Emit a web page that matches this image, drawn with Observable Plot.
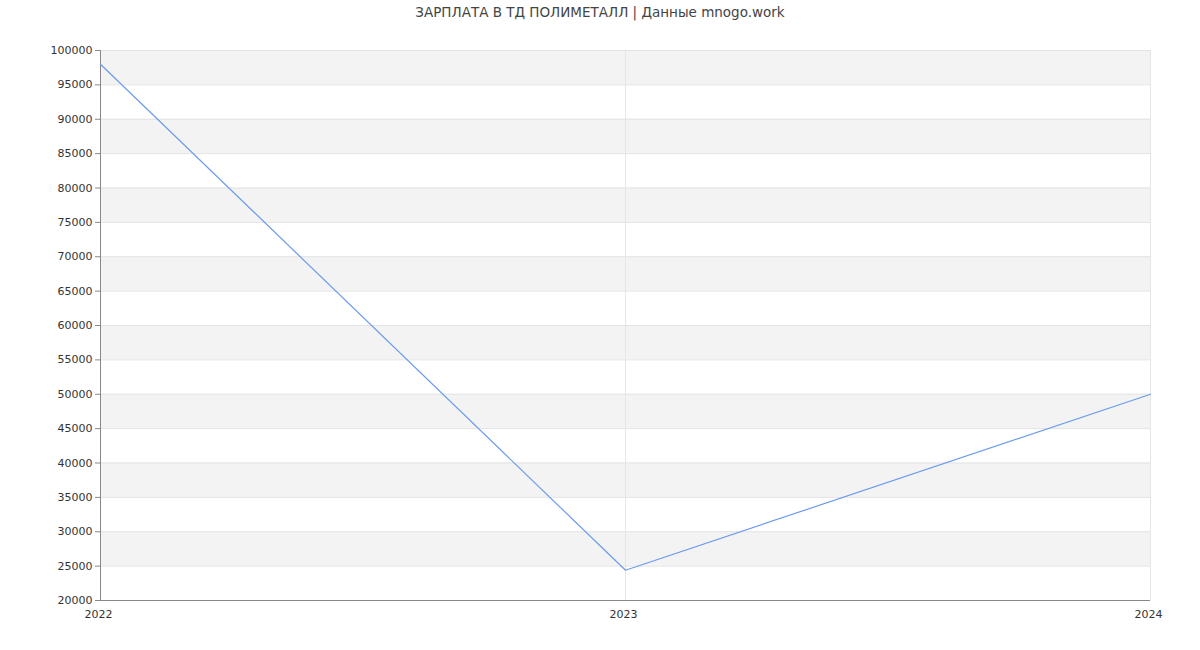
<!DOCTYPE html>
<html>
<head>
<meta charset="utf-8">
<script src="https://cdn.jsdelivr.net/npm/d3@7"></script>
<script src="https://cdn.jsdelivr.net/npm/@observablehq/plot@0.6"></script>
<style>
  html, body { margin: 0; padding: 0; background: #fff; }
  #title { height: 25px; line-height: 24px; text-align: center; font-family: "DejaVu Sans", sans-serif; font-size: 13.5px; color: #444; }
  #chart svg { display: block; }
</style>
</head>
<body>
<div id="title">ЗАРПЛАТА В ТД ПОЛИМЕТАЛЛ | Данные mnogo.work</div>
<div id="chart"></div>
<script>
const years = [2022, 2023, 2024];
const salary = [98000, 24400, 50000];
const yTicks = [20000, 25000, 30000, 35000, 40000, 45000, 50000, 55000, 60000, 65000, 70000, 75000, 80000, 85000, 90000, 95000, 100000];
const xTicks = [2022, 2023, 2024];
const bandStarts = [25000, 35000, 45000, 55000, 65000, 75000, 85000, 95000];

const data = years.map((y, i) => ({year: y, value: salary[i]}));
const bands = bandStarts.map(s => ({lo: s, hi: s + 5000}));

const chart = Plot.plot({
  width: 1200,
  height: 625,
  marginTop: 25,
  marginBottom: 50,
  marginLeft: 100,
  marginRight: 50,
  style: {fontFamily: "DejaVu Sans, sans-serif", fontSize: "11px", color: "#333", background: "#fff"},
  x: {domain: [2022, 2024], ticks: xTicks, tickFormat: d => String(d), tickSize: 0, tickPadding: 10, label: null},
  y: {domain: [20000, 100000], ticks: yTicks, tickFormat: d => String(d), tickSize: 5, tickPadding: 3, label: null},
  marks: [
    Plot.rect(bands, {y1: "lo", y2: "hi", fill: "#f3f3f3"}),
    Plot.ruleY(yTicks.slice(1), {stroke: "#e3e3e3", strokeWidth: 1}),
    Plot.ruleX([2023, 2024], {stroke: "#e6e6e6", strokeWidth: 1}),
    Plot.ruleY([20000], {stroke: "#888", strokeWidth: 1}),
    Plot.ruleX([2022], {stroke: "#888", strokeWidth: 1}),
    Plot.line(data, {x: "year", y: "value", stroke: "#6b9bef", strokeWidth: 1.2}),
    Plot.axisX({ticks: xTicks, tickFormat: d => String(d), tickSize: 0, tickPadding: 10, dx: -2, fill: "#333"}),
    Plot.axisY({ticks: yTicks, tickFormat: d => String(d), tickSize: 5, tickPadding: 3, stroke: "#888", fill: "#333"})
  ]
});
document.getElementById("chart").appendChild(chart);
</script>
</body>
</html>
